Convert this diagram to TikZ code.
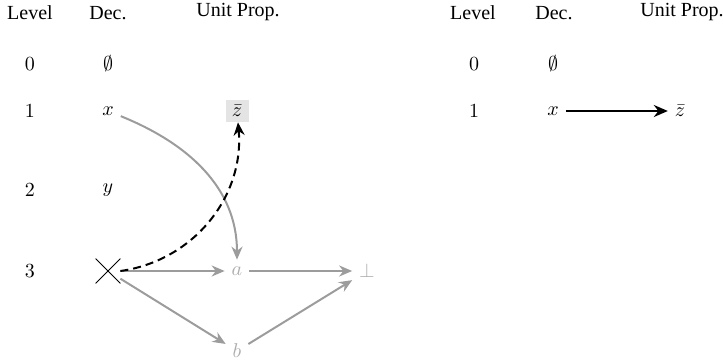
\documentclass[tikz,border=0pt]{standalone}
\usepackage[no-math]{fontspec}
\setmainfont{Liberation Serif}
\usepackage{tikz}
\usetikzlibrary{arrows.meta,positioning,shapes.misc}
\usepackage{amsmath,amssymb}
\definecolor{implgray}{HTML}{9C9C9C}
\definecolor{litgray}{HTML}{ADADAD}
\definecolor{boxgray}{HTML}{E4E4E4}
\tikzset{
  header/.style={font=\normalsize, anchor=base},
  lit/.style={font=\normalsize, color=#1},
  lit/.default=black,
  implarrow/.style={
    -{Stealth[length=6.5pt, width=5.5pt]}, line width=1pt, color=#1
  },
  implarrow/.default=implgray,
  learnt/.style={
    fill=boxgray, minimum width=11.5pt, minimum height=11pt, inner sep=2pt
  },
  conflictx/.style={
    cross out, draw, thin, minimum size=12pt, inner sep=0pt
  },
}

\begin{document}
\begin{tikzpicture}[x=0.5pt, y=-0.5pt]
  \useasboundingbox (0,0) rectangle (723,364);

  % ── Left: trail with conflict ────────
  \node[header] (lh1) at (30,19) {Level};
  \node[header] (lh2) at (108,19) {Dec.};
  \node[header] (lh3) at (238,17) {Unit Prop.};

  \node[lit] (l0) at (30,64) {$0$};
  \node[lit] (l1) at (30,111) {$1$};
  \node[lit] (l2) at (30,190) {$2$};
  \node[lit] (l3) at (30,271) {$3$};

  \node[lit] (d0) at (108,64) {$\emptyset$};
  \node[lit] (dx) at (108,111) {$x$};
  \node[lit] (dy) at (108,190) {$y$};
  \node[conflictx] (dz) at (108,271) {};

  \node[learnt] (zb) at (237,111) {$\bar{z}$};
  \node[lit=litgray] (pa) at (237,271) {$a$};
  \node[lit=litgray] (pb) at (237,351) {$b$};
  \node[lit=litgray] (bot) at (367,271) {$\bot$};

  \draw[implarrow] (dx) to[out=-22, in=90] (pa);
  \draw[implarrow] (dz) -- (pa);
  \draw[implarrow] (dz) -- (pb);
  \draw[implarrow] (pa) -- (bot);
  \draw[implarrow] (pb) -- (bot);
  \draw[implarrow=black, dash pattern=on 4pt off 2.5pt]
    (dz.east) to[out=8, in=-85] (zb);

  % ── Right: after backjump ────────
  \node[header] (rh1) at (473,19) {Level};
  \node[header] (rh2) at (554,19) {Dec.};
  \node[header] (rh3) at (682,17) {Unit Prop.};

  \node[lit] (r0) at (474,64) {$0$};
  \node[lit] (r1) at (474,111) {$1$};
  \node[lit] (e0) at (553,64) {$\emptyset$};
  \node[lit] (ex) at (553,111) {$x$};
  \node[lit] (ez) at (680,111) {$\bar{z}$};

  \draw[very thick, -{Stealth[length=7pt, width=6pt]}] (ex) -- (ez);
\end{tikzpicture}
\end{document}
